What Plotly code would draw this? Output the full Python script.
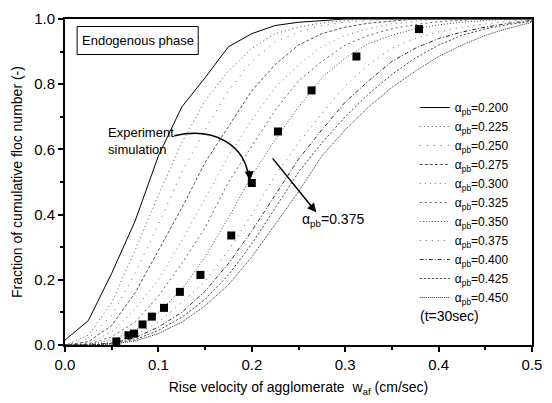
import plotly.graph_objects as go

# ---- data ----
X_GRID = [0.000, 0.025, 0.050, 0.075, 0.100, 0.125, 0.150, 0.175, 0.200, 0.225, 0.250,
          0.275, 0.300, 0.325, 0.350, 0.375, 0.400, 0.425, 0.450, 0.475, 0.500]

ALPHA_LABELS = ["0.200", "0.225", "0.250", "0.275", "0.300", "0.325",
                "0.350", "0.375", "0.400", "0.425", "0.450"]

a200 = [0.015, 0.075, 0.22, 0.38, 0.58, 0.73, 0.82, 0.915, 0.955, 0.98, 0.99, 0.995, 1.0, 1.0, 1.0, 1.0, 1.0, 1.0, 1.0, 1.0, 1.0]
a225 = [0.0, 0.03, 0.13, 0.29, 0.46, 0.62, 0.75, 0.84, 0.91, 0.955, 0.975, 0.988, 0.995, 1.0, 1.0, 1.0, 1.0, 1.0, 1.0, 1.0, 1.0]
a250 = [0.0, 0.02, 0.09, 0.22, 0.37, 0.53, 0.66, 0.78, 0.87, 0.93, 0.96, 0.98, 0.99, 0.995, 1.0, 1.0, 1.0, 1.0, 1.0, 1.0, 1.0]
a275 = [0.0, 0.01, 0.06, 0.16, 0.29, 0.42, 0.56, 0.67, 0.78, 0.86, 0.92, 0.955, 0.975, 0.987, 0.994, 1.0, 1.0, 1.0, 1.0, 1.0, 1.0]
a300 = [0.0, 0.005, 0.04, 0.11, 0.20, 0.32, 0.45, 0.58, 0.69, 0.79, 0.86, 0.915, 0.95, 0.97, 0.985, 0.993, 1.0, 1.0, 1.0, 1.0, 1.0]
a325 = [0.0, 0.003, 0.025, 0.07, 0.15, 0.25, 0.36, 0.50, 0.61, 0.72, 0.81, 0.87, 0.92, 0.95, 0.97, 0.983, 0.992, 0.997, 1.0, 1.0, 1.0]
a350 = [0.0, 0.002, 0.015, 0.045, 0.10, 0.17, 0.27, 0.39, 0.52, 0.63, 0.73, 0.82, 0.88, 0.925, 0.95, 0.97, 0.982, 0.99, 0.995, 1.0, 1.0]
a375 = [0.0, 0.001, 0.008, 0.03, 0.07, 0.13, 0.195, 0.29, 0.40, 0.52, 0.62, 0.71, 0.795, 0.86, 0.91, 0.94, 0.96, 0.975, 0.985, 0.993, 1.0]
a400 = [0.0, 0.001, 0.006, 0.022, 0.055, 0.10, 0.165, 0.25, 0.35, 0.46, 0.57, 0.66, 0.745, 0.81, 0.87, 0.91, 0.94, 0.96, 0.975, 0.987, 0.996]
a425 = [0.0, 0.0, 0.004, 0.016, 0.045, 0.085, 0.14, 0.215, 0.31, 0.42, 0.53, 0.62, 0.70, 0.77, 0.83, 0.88, 0.92, 0.95, 0.97, 0.983, 0.993]
a450 = [0.0, 0.0, 0.003, 0.012, 0.035, 0.07, 0.12, 0.185, 0.27, 0.37, 0.47, 0.58, 0.66, 0.73, 0.79, 0.84, 0.885, 0.92, 0.95, 0.972, 0.99]

CURVES = [a200, a225, a250, a275, a300, a325, a350, a375, a400, a425, a450]

EXP_X = [0.055, 0.068, 0.074, 0.083, 0.093, 0.106, 0.123, 0.145, 0.178, 0.200, 0.228, 0.264, 0.312, 0.379]
EXP_Y = [0.011, 0.030, 0.035, 0.063, 0.087, 0.114, 0.163, 0.215, 0.336, 0.497, 0.655, 0.781, 0.885, 0.969]

# ---- styles ----
FONT = "Liberation Sans, Arial, sans-serif"
DASHES = ["solid", "1px,3px", "1px,6px", "3px,2px", "1px,4px", "2px,3px",
          "1px,2px", "1px,5px", "4px,2px,1px,2px", "2px,2px", "1px,1px"]
COLORS = ["#000000", "#555555", "#666666", "#555555", "#777777", "#666666",
          "#444444", "#666666", "#333333", "#444444", "#333333"]

fig = go.Figure()
for lab, ys, dash, col in zip(ALPHA_LABELS, CURVES, DASHES, COLORS):
    fig.add_trace(go.Scatter(
        x=X_GRID, y=ys, mode="lines",
        name="α<sub>pb</sub>=" + lab,
        line=dict(color=col, width=1, dash=dash),
    ))

fig.add_trace(go.Scatter(
    x=EXP_X, y=EXP_Y, mode="markers", showlegend=False,
    marker=dict(symbol="square", size=8, color="black"),
))

ann = []
# Endogenous phase box
fig.add_shape(type="rect", xref="x", yref="y", x0=0.013, x1=0.1426, y0=0.891, y1=0.977,
              line=dict(color="black", width=1))
ann.append(dict(x=0.078, y=0.934, xref="x", yref="y", text="Endogenous phase",
                showarrow=False, font=dict(size=13, family=FONT, color="black")))
ann.append(dict(x=0.0436, y=0.626, xref="x", yref="y", text="Experiment<br>simulation",
                xanchor="left", align="left", showarrow=False,
                font=dict(size=13, family=FONT, color="black")))
# curved arrow
fig.add_shape(type="path", xref="x", yref="y",
              path="M 0.117 0.642 C 0.160 0.669 0.194 0.615 0.197 0.505",
              line=dict(color="black", width=1.5))
ann.append(dict(x=0.198, y=0.505, ax=0.197, ay=0.54, xref="x", yref="y", axref="x", ayref="y",
                text="", showarrow=True, arrowhead=2, arrowsize=1.2, arrowwidth=1.5, arrowcolor="black"))
# straight arrow
ann.append(dict(x=0.269, y=0.407, ax=0.221, ay=0.577, xref="x", yref="y", axref="x", ayref="y",
                text="", showarrow=True, arrowhead=2, arrowsize=1.2, arrowwidth=1.5, arrowcolor="black"))
ann.append(dict(x=0.287, y=0.384, xref="x", yref="y", text="α<sub>pb</sub>=0.375",
                showarrow=False, font=dict(size=14, family=FONT, color="black")))
ann.append(dict(x=0.378, y=0.090, xref="x", yref="y", text="(t=30sec)", xanchor="left",
                showarrow=False, font=dict(size=14, family=FONT, color="black")))

axis_common = dict(showline=True, linecolor="black", linewidth=2, mirror=True,
                   ticks="outside", ticklen=5, tickwidth=1.5, tickcolor="black",
                   showgrid=False, zeroline=False,
                   tickfont=dict(size=15, family=FONT, color="black"),
                   title_font=dict(size=14, family=FONT, color="black"))

fig.update_layout(
    width=552, height=403,
    margin=dict(l=65, r=16, t=10, b=55),
    paper_bgcolor="white", plot_bgcolor="white",
    font=dict(family=FONT, color="black"),
    xaxis=dict(range=[0, 0.5], dtick=0.1, tickformat=".1f",
               title=dict(text="Rise velocity of agglomerate  w<sub>af</sub> (cm/sec)", standoff=10),
               minor=dict(ticks="outside", ticklen=3, dtick=0.05, tickcolor="black"),
               **axis_common),
    yaxis=dict(range=[0, 1.0], dtick=0.2, tickformat=".1f",
               title=dict(text="Fraction of cumulative floc number (-)", standoff=8),
               minor=dict(ticks="outside", ticklen=3, dtick=0.1, tickcolor="black"),
               **axis_common),
    legend=dict(x=0.749, y=0.773, xanchor="left", yanchor="top",
                bgcolor="rgba(0,0,0,0)", borderwidth=0,
                font=dict(size=12, family=FONT, color="black"),
                tracegroupgap=0, itemwidth=30),
    annotations=ann,
)

fig.write_html("out.html")
